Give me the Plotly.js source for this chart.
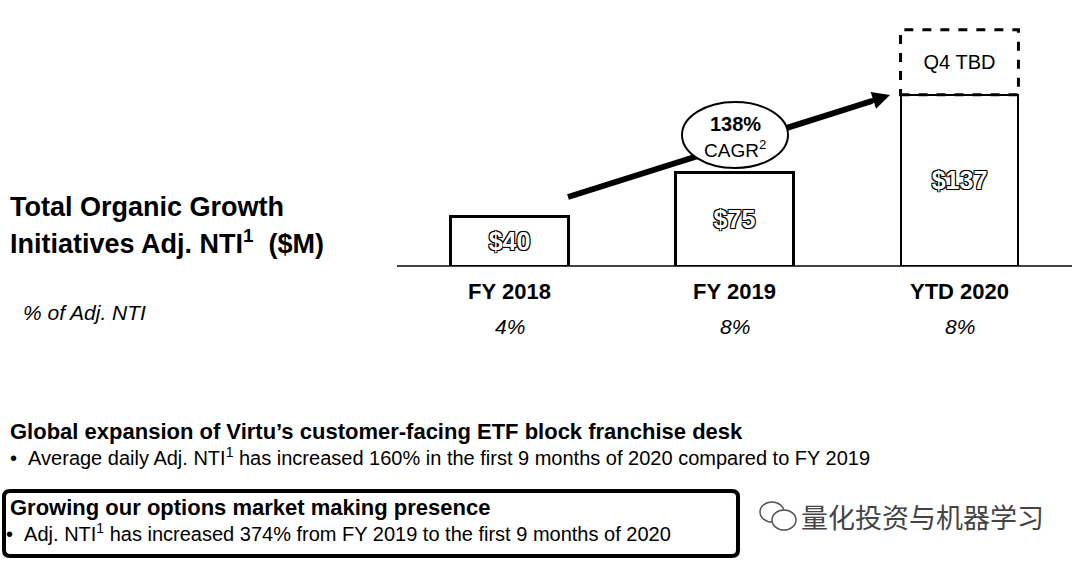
<!DOCTYPE html>
<html>
<head>
<meta charset="utf-8">
<script src="https://cdn.plot.ly/plotly-3.0.1.min.js"></script>
<style>
  html, body { margin: 0; padding: 0; background: #fff; }
  #chart { width: 1080px; height: 562px; }
</style>
</head>
<body>
<div id="chart"></div>
<script>
const categories = ['FY 2018', 'FY 2019', 'YTD 2020']
const adjNti = [40, 75, 137]
const adjNtiLabels = ['$40', '$75', '$137']
const pctOfNti = ['4%', '8%', '8%']
// dashed "Q4 TBD" box sitting on top of the YTD bar (height)
const q4Placeholder = [0, 0, 52]
const q4Labels = ['', '', 'Q4 TBD']
const cagr = '138%'

const W = 1080, H = 562
const mL = 397, mR = 8, mT = 21, mB = 296
const plotW = W - mL - mR, plotH = H - mT - mB
const bargap = 0.476
const font = 'Liberation Sans, Arial, sans-serif'

// pixel -> paper helpers for decorations and free text
const px = x => (x - mL) / plotW
const py = y => (H - mB - y) / plotH

const outline = '-1px -1px 0 #000, 1px -1px 0 #000, -1px 1px 0 #000, 1px 1px 0 #000, 0 0 2px #000'

let data = [
    {
        type: 'bar',
        x: categories,
        y: adjNti,
        marker: {color: '#fff', line: {color: '#000', width: [3, 3, 2]}},
        text: adjNtiLabels,
        textposition: 'inside',
        insidetextanchor: 'middle',
        textangle: 0,
        textfont: {family: font, size: 25, color: '#fff', weight: 'bold', shadow: outline},
        hoverinfo: 'skip',
    },
    {
        type: 'bar',
        x: categories,
        y: q4Placeholder,
        marker: {color: 'rgba(255,255,255,0)', line: {width: 0}},
        text: q4Labels,
        textposition: 'inside',
        insidetextanchor: 'middle',
        textangle: 0,
        textfont: {family: font, size: 20, color: '#000'},
        hoverinfo: 'skip',
    }
]

let shapes = []
let annotations = []

// dashed outline of the Q4 box
const half = (1 - bargap) / 2
const iYtd = categories.indexOf('YTD 2020')
shapes.push({
    type: 'rect', xref: 'x', yref: 'y', layer: 'above',
    x0: iYtd - half, x1: iYtd + half,
    y0: adjNti[iYtd], y1: adjNti[iYtd] + q4Placeholder[iYtd],
    line: {color: '#000', width: 3, dash: 'dash'},
})

// CAGR arrow: shaft, then ellipse on top, then head
shapes.push({
    type: 'line', xref: 'paper', yref: 'paper', layer: 'above',
    x0: px(568), y0: py(197), x1: px(872), y1: py(101),
    line: {color: '#000', width: 6},
})
shapes.push({
    type: 'circle', xref: 'paper', yref: 'paper', layer: 'above',
    x0: px(682), x1: px(788), y0: py(168), y1: py(102),
    fillcolor: '#fff', line: {color: '#000', width: 2},
})
annotations.push({
    xref: 'paper', yref: 'paper', x: px(890), y: py(95),
    ax: -28, ay: 9, text: '', showarrow: true,
    arrowhead: 2, arrowsize: 0.7, arrowwidth: 5, arrowcolor: '#000',
})
annotations.push({
    xref: 'paper', yref: 'paper', x: px(735), y: py(124), xanchor: 'center', yanchor: 'middle',
    text: '<b>' + cagr + '</b>',
    showarrow: false, font: {family: font, size: 20, color: '#000'},
})
annotations.push({
    xref: 'paper', yref: 'paper', x: px(735), y: py(149), xanchor: 'center', yanchor: 'middle',
    text: 'CAGR<sup>2</sup>',
    showarrow: false, font: {family: font, size: 19, color: '#000'},
})

// % of Adj. NTI row
categories.forEach((c, i) => {
    annotations.push({
        xref: 'x', yref: 'paper', x: c, y: py(327), xanchor: 'center', yanchor: 'middle',
        text: pctOfNti[i],
        showarrow: false, font: {family: font, size: 21, color: '#000', style: 'italic'},
    })
})

function leftText(x, y, text, size, extra = {}) {
    annotations.push({
        xref: 'paper', yref: 'paper', x: px(x), y: py(y), xanchor: 'left', yanchor: 'middle',
        text: text, showarrow: false, font: Object.assign({family: font, size: size, color: '#000'}, extra),
    })
}

leftText(8, 207, '<b>Total Organic Growth</b>', 27)
leftText(8, 242, '<b>Initiatives Adj. NTI<sup>1</sup>&nbsp;&nbsp;($M)</b>', 27)
leftText(21, 312, '% of Adj. NTI', 21, {style: 'italic'})

leftText(8, 431, '<b>Global expansion of Virtu’s customer-facing ETF block franchise desk</b>', 22)
leftText(8, 456, '•&nbsp;&nbsp;Average daily Adj. NTI<sup>1</sup> has increased 160% in the first 9 months of 2020 compared to FY 2019', 20)
leftText(8, 508, '<b>Growing our options market making presence</b>', 22)
leftText(4, 532, '•&nbsp;&nbsp;Adj. NTI<sup>1</sup> has increased 374% from FY 2019 to the first 9 months of 2020', 20)

// rounded box round the options section
function roundRect(x0, y0, x1, y1, r) {
    const X = v => px(v), Y = v => py(v)
    return `M ${X(x0 + r)} ${Y(y0)} L ${X(x1 - r)} ${Y(y0)} Q ${X(x1)} ${Y(y0)} ${X(x1)} ${Y(y0 + r)} ` +
        `L ${X(x1)} ${Y(y1 - r)} Q ${X(x1)} ${Y(y1)} ${X(x1 - r)} ${Y(y1)} ` +
        `L ${X(x0 + r)} ${Y(y1)} Q ${X(x0)} ${Y(y1)} ${X(x0)} ${Y(y1 - r)} ` +
        `L ${X(x0)} ${Y(y0 + r)} Q ${X(x0)} ${Y(y0)} ${X(x0 + r)} ${Y(y0)} Z`
}
shapes.push({
    type: 'path', xref: 'paper', yref: 'paper', layer: 'above',
    path: roundRect(4, 491, 738, 556, 6),
    line: {color: '#000', width: 4},
})

// watermark
shapes.push({
    type: 'circle', xref: 'paper', yref: 'paper', layer: 'above',
    x0: px(760), x1: px(784), y0: py(522), y1: py(502),
    line: {color: '#555', width: 1.5},
})
shapes.push({
    type: 'circle', xref: 'paper', yref: 'paper', layer: 'above',
    x0: px(772), x1: px(796), y0: py(530), y1: py(510),
    fillcolor: '#fff', line: {color: '#555', width: 1.5},
})
leftText(799, 516, '量化投资与机器学习', 27, {family: 'Noto Sans CJK SC, sans-serif', color: '#444'})

let layout = {
    width: W, height: H,
    margin: {l: mL, r: mR, t: mT, b: mB, pad: 0},
    paper_bgcolor: '#fff', plot_bgcolor: '#fff',
    showlegend: false,
    barmode: 'stack',
    bargap: bargap,
    xaxis: {
        type: 'category', showline: false, showgrid: false, ticks: '',
        tickfont: {family: font, size: 22, color: '#000', weight: 'bold'},
        ticklabelstandoff: 10, fixedrange: true,
    },
    yaxis: {
        range: [0, 196], showgrid: false, showticklabels: false, ticks: '',
        zeroline: true, zerolinecolor: '#444', zerolinewidth: 1.5, fixedrange: true,
    },
    shapes: shapes,
    annotations: annotations,
}

Plotly.newPlot('chart', data, layout, {displayModeBar: false, staticPlot: true})
</script>
</body>
</html>
